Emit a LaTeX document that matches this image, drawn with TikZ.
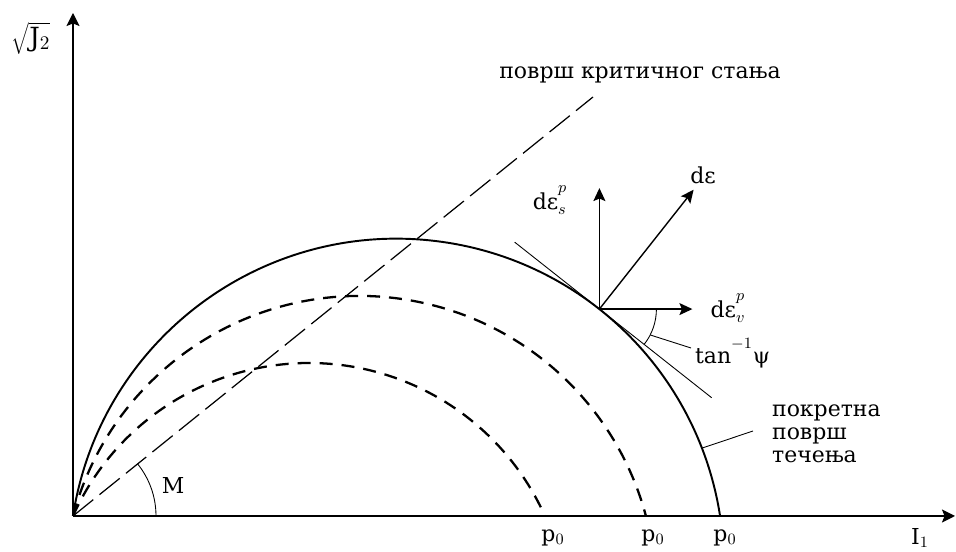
\documentclass[tikz,border=0pt]{standalone}
\usepackage{fontspec}
\setmainfont{DejaVu Serif}
\usetikzlibrary{arrows.meta, positioning, calc}

\begin{document}
\begin{tikzpicture}[
    x=0.2mm, y=0.2mm,
    axis/.style={draw, line width=0.8pt, -{Stealth[length=2.6mm, width=2.6mm, inset=0.5mm]}},
    vec/.style={draw, line width=0.8pt, -{Stealth[length=2.6mm, width=2.4mm, inset=0.5mm]}},
    yield/.style={draw, line width=1.1pt},
    oldyield/.style={draw, line width=1.3pt, dash pattern=on 2.6mm off 1.8mm},
    csl/.style={draw, line width=0.7pt, dash pattern=on 5.2mm off 1.6mm},
    thin/.style={draw, line width=0.5pt},
    lbl/.style={font=\fontsize{12.5}{13}\selectfont, inner sep=1pt}
  ]
  \useasboundingbox (0,0) rectangle (956,552);

  % axes
  \coordinate (O) at (73,36);
  \coordinate (ytip) at (73,539);
  \coordinate (xtip) at (955,36);
  \path[axis] (O) -- (ytip);
  \path[axis] (O) -- (xtip);
  \node[lbl, font=\fontsize{15}{17}\selectfont] (J2) at (31,514) {$\sqrt{\mathrm{J}_2}$};
  \node[lbl] (I1) at (920,14) {I$_1$};

  % yield surfaces
  \coordinate (C3) at (396.5,-14);
  \path[oldyield] (O) arc[start angle=155.9, end angle=24.1, radius=258.5];
  \path[oldyield] (O) arc[start angle=165.05, end angle=14.95, radius=296.5];
  \path[yield] (O) arc[start angle=171.2, end angle=8.8, radius=327.4];
  \node[lbl] (p1) at (553,14) {p$_0$};
  \node[lbl] (p2) at (653,14) {p$_0$};
  \node[lbl] (p3) at (725,14) {p$_0$};

  % critical state line
  \coordinate (cslend) at (593,455);
  \path[csl] (O) -- (cslend);
  \node[lbl] (csltxt) at (640,477) {површ критичног стања};
  \path[thin] ($(O)+(83,0)$) arc[start angle=0, end angle=38.8, radius=83];
  \node[lbl] (M) at (173,67) {M};

  % strain increments
  \coordinate (T) at ($(C3)+(51.7:327.4)$);
  \coordinate (tA) at ($(T)+(141.7:108)$);
  \coordinate (tB) at ($(T)+(-38.3:143)$);
  \path[thin] (tA) -- (tB);
  \coordinate (de) at ($(T)+(51.7:152)$);
  \coordinate (des) at ($(T)+(0,121)$);
  \coordinate (dev) at ($(T)+(93,0)$);
  \path[vec] (T) -- (de);
  \path[vec] (T) -- (des);
  \path[vec] (T) -- (dev);
  \node[lbl] (detxt) at (703,377) {dε};
  \node[lbl] (destxt) at (550,352) {dε$^{p}_{s}$};
  \node[lbl] (devtxt) at (728,244) {dε$^{p}_{v}$};

  % dilatancy angle
  \path[thin] ($(T)+(0:57)$) arc[start angle=0, end angle=-38.3, radius=57];
  \coordinate (psiA) at ($(T)+(-27:57)$);
  \node[lbl, anchor=west] (psi) at (693,199) {tan$^{-1}$ψ};
  \path[thin] (psiA) -- ([xshift=-0.4mm, yshift=1mm]psi.west);

  % flow surface label
  \coordinate (fl) at ($(C3)+(21.1:327.4)$);
  \coordinate (flend) at (753,121);
  \path[thin] (fl) -- (flend);
  \node[lbl, anchor=west, align=left] (flow) at (770,118) {покретна\\површ\\течења};
\end{tikzpicture}
\end{document}
